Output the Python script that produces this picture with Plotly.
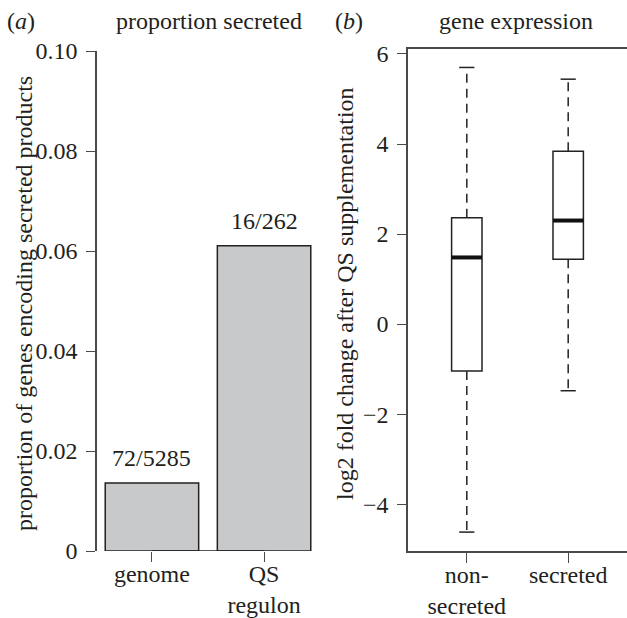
import plotly.graph_objects as go

# ---- panel (a) data ----
groups_a = ["genome", "QS<br>regulon"]
secreted_counts = [72, 16]
total_counts = [5285, 262]
bar_labels = ["72/5285", "16/262"]
bar_pos = [0.7, 1.9]
yticks_a = [0, 0.02, 0.04, 0.06, 0.08, 0.10]
yticklabels_a = ["0", "0.02", "0.04", "0.06", "0.08", "0.10"]

# ---- panel (b) data ----
groups_b = ["non-<br>secreted", "secreted"]
box_pos = [1, 2]
lower_whisker = [-4.62, -1.48]
q1 = [-1.04, 1.44]
median = [1.48, 2.30]
q3 = [2.36, 3.84]
upper_whisker = [5.70, 5.44]
yticks_b = [-4, -2, 0, 2, 4, 6]

W, H = 627, 618
FONT = "Liberation Serif, Times New Roman, Tinos, DejaVu Serif, serif"
FS = 24
TXT = "#231f20"
AX = "#4a4a4a"
LINE = "#222222"

proportions = [c / t for c, t in zip(secreted_counts, total_counts)]

fig = go.Figure()

fig.add_trace(go.Bar(
    x=bar_pos, y=proportions, width=1.0,
    marker=dict(color="#c8c9cb", line=dict(color=LINE, width=1.5)),
    xaxis="x", yaxis="y", showlegend=False, hoverinfo="skip"))

BW = 0.3
fig.add_trace(go.Box(
    x=box_pos, q1=q1, median=median, q3=q3,
    lowerfence=q1, upperfence=q3, width=BW,
    fillcolor="white", line=dict(color=LINE, width=1.5),
    boxpoints=False, xaxis="x2", yaxis="y2", showlegend=False, hoverinfo="skip"))

# dashed whiskers
wx, wy = [], []
for p, a, b, c, d in zip(box_pos, q3, upper_whisker, q1, lower_whisker):
    wx += [p, p, None, p, p, None]
    wy += [a, b, None, c, d, None]
fig.add_trace(go.Scatter(x=wx, y=wy, mode="lines", xaxis="x2", yaxis="y2",
                         line=dict(color=LINE, width=1.5, dash="9px,6px"),
                         showlegend=False, hoverinfo="skip"))
# caps
CW = BW / 4
cx, cy = [], []
for p, b, d in zip(box_pos, upper_whisker, lower_whisker):
    cx += [p - CW, p + CW, None, p - CW, p + CW, None]
    cy += [b, b, None, d, d, None]
fig.add_trace(go.Scatter(x=cx, y=cy, mode="lines", xaxis="x2", yaxis="y2",
                         line=dict(color=LINE, width=1.5),
                         showlegend=False, hoverinfo="skip"))
# thick medians
mx, my = [], []
for p, m in zip(box_pos, median):
    mx += [p - BW / 2, p + BW / 2, None]
    my += [m, m, None]
fig.add_trace(go.Scatter(x=mx, y=my, mode="lines", xaxis="x2", yaxis="y2",
                         line=dict(color="#111111", width=4),
                         showlegend=False, hoverinfo="skip"))

common_tick = dict(ticks="outside", tickcolor=AX, tickwidth=1.3,
                   showgrid=False, zeroline=False, automargin=False,
                   tickfont=dict(family=FONT, size=FS, color=TXT))

fig.update_layout(
    width=W, height=H, margin=dict(l=0, r=0, t=0, b=0, autoexpand=False),
    paper_bgcolor="white", plot_bgcolor="white",
    font=dict(family=FONT, size=FS, color=TXT),
    xaxis=dict(domain=[97 / W, 319 / W], range=[0.112, 2.488],
               tickvals=bar_pos, ticktext=groups_a, ticklen=10,
               showline=False, anchor="y", ticklabelstandoff=-9, **common_tick),
    yaxis=dict(domain=[1 - 551 / H, 1 - 51 / H], range=[0, 0.1],
               tickvals=yticks_a, ticktext=yticklabels_a, ticklen=9,
               showline=True, linecolor=AX, linewidth=1.5, anchor="x",
               ticklabelstandoff=4, **common_tick),
    xaxis2=dict(domain=[408 / W, 1], range=[0.42, 2.58],
                tickvals=box_pos, ticktext=groups_b, ticklen=10,
                showline=True, mirror=True, linecolor=AX, linewidth=1.5,
                anchor="y2", ticklabelstandoff=-9, **common_tick),
    yaxis2=dict(domain=[1 - 551 / H, 1 - 49 / H], range=[-5.04, 6.11],
                tickvals=yticks_b, ticklen=9,
                showline=True, linecolor=AX, linewidth=1.5, anchor="x2",
                ticklabelstandoff=4, **common_tick),
)

fig.add_shape(type="line", xref="x", yref="y", x0=bar_pos[0], x1=bar_pos[-1],
              y0=0, y1=0, line=dict(color=LINE, width=1.5))

ann = []
for xp, yp, lab in zip(bar_pos, proportions, bar_labels):
    ann.append(dict(x=xp, y=yp, xref="x", yref="y", text=lab, showarrow=False,
                    xanchor="center", yanchor="bottom", yshift=10))
ann += [
    dict(x=21 / W, y=1 - 21 / H, text="(<i>a</i>)"),
    dict(x=209 / W, y=1 - 21 / H, text="proportion secreted"),
    dict(x=349 / W, y=1 - 21 / H, text="(<i>b</i>)"),
    dict(x=516 / W, y=1 - 21 / H, text="gene expression"),
    dict(x=24 / W, y=1 - 304 / H, text="proportion of genes encoding secreted products",
         textangle=-90),
    dict(x=345 / W, y=1 - 294 / H, text="log2 fold change after QS supplementation",
         textangle=-90),
]
for a in ann:
    a.setdefault("xref", "paper")
    a.setdefault("yref", "paper")
    a.setdefault("showarrow", False)
    a.setdefault("xanchor", "center")
    a.setdefault("yanchor", "middle")
    a["font"] = dict(family=FONT, size=FS, color=TXT)
fig.update_layout(annotations=ann)

fig.write_html("out.html", config={"displayModeBar": False},
               post_script="document.body.style.margin='0';"
                           "document.body.style.overflow='hidden';")
